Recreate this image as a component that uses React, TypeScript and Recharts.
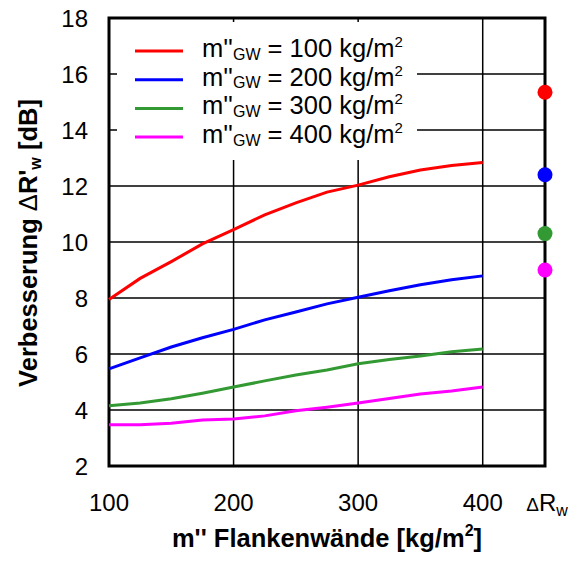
import { ComposedChart, Line, Scatter, XAxis, YAxis, CartesianGrid, ReferenceArea, Legend } from 'recharts';

const masses = [100, 125, 150, 175, 200, 225, 250, 275, 300, 325, 350, 375, 400];
const gw100 = [7.95, 8.7, 9.3, 9.93, 10.44, 10.97, 11.4, 11.78, 12.03, 12.33, 12.57, 12.73, 12.84];
const gw200 = [5.47, 5.86, 6.25, 6.58, 6.88, 7.22, 7.5, 7.79, 8.03, 8.26, 8.47, 8.65, 8.79];
const gw300 = [4.15, 4.25, 4.4, 4.6, 4.82, 5.04, 5.25, 5.43, 5.65, 5.8, 5.93, 6.08, 6.18];
const gw400 = [3.47, 3.47, 3.53, 3.64, 3.68, 3.79, 3.97, 4.1, 4.25, 4.41, 4.57, 4.68, 4.82];

const seriesKeys = ['gw100', 'gw200', 'gw300', 'gw400'];
const seriesLabels = ['100', '200', '300', '400'];
const colors = ['#ff0000', '#0000ff', '#339933', '#ff00ff'];

// Einzahlwerte ΔRw (rechte Achse)
const deltaRw = [15.35, 12.4, 10.3, 9.0];

const xTicks = [100, 200, 300, 400, 450];
const yTicks = [2, 4, 6, 8, 10, 12, 14, 16, 18];

const font = '"Liberation Sans", Arial, sans-serif';

const data = masses.map((m, i) => ({ x: m, gw100: gw100[i], gw200: gw200[i], gw300: gw300[i], gw400: gw400[i] }));
const dots = deltaRw.map((v, i) => ({ x: 450, y: v, color: colors[i] }));

function XTick({ x, y, payload }: any) {
  if (payload.value === 450) {
    return (
      <text x={x + 2} y={y} dy="0.71em" textAnchor="middle" fontSize={24} fill="#000" fontFamily={font}>
        <tspan fontSize={19}>Δ</tspan>
        <tspan>R</tspan>
        <tspan fontSize={16} dy={5}>w</tspan>
      </text>
    );
  }
  return (
    <text x={x} y={y} dy="0.71em" textAnchor="middle" fontSize={24} fill="#000" fontFamily={font}>
      {payload.value}
    </text>
  );
}

function XLabel({ viewBox }: any) {
  const cx = viewBox.x + viewBox.width / 2;
  return (
    <text x={cx} y={viewBox.y + 81} textAnchor="middle" fontSize={25.5} fontWeight="bold" fill="#000" fontFamily={font}>
      <tspan>m'' Flankenwände [kg/m</tspan>
      <tspan fontSize={16} dy={-11}>2</tspan>
      <tspan dy={11}>]</tspan>
    </text>
  );
}

function YLabel() {
  const x = 37;
  const y = 243;
  return (
    <text x={x} y={y} transform={`rotate(-90, ${x}, ${y})`} textAnchor="middle" fontSize={25.5} fontWeight="bold" fill="#000" fontFamily={font}>
      <tspan>Verbesserung </tspan>
      <tspan fontWeight="normal">Δ</tspan>
      <tspan>R'</tspan>
      <tspan fontSize={16} dy={4}>w</tspan>
      <tspan dy={-4}> [dB]</tspan>
    </text>
  );
}

function LegendBox() {
  return (
    <svg width={300} height={138} style={{ display: 'block' }}>
      {seriesLabels.map((lab, i) => {
        const ly = 29 + i * 28.7;
        return (
          <g key={lab}>
            <line x1={18} x2={66} y1={ly} y2={ly} stroke={colors[i]} strokeWidth={3} />
            <text x={85} y={ly + 6} fontSize={25.5} fill="#000" fontFamily={font}>
              <tspan>m''</tspan>
              <tspan fontSize={16} dy={2.5}>GW</tspan>
              <tspan dy={-2.5}> = {lab} kg/m</tspan>
              <tspan fontSize={15} dy={-10}>2</tspan>
            </text>
          </g>
        );
      })}
    </svg>
  );
}

function Dot({ cx, cy, payload }: any) {
  return <circle cx={cx} cy={cy} r={7.5} fill={payload.color} />;
}

export default function App() {
  return (
    <div style={{ position: 'absolute', left: 0, top: 0, width: 576, height: 561, background: '#fff', fontFamily: font }}>
      <ComposedChart width={576} height={561} data={data} margin={{ top: 18, right: 31, left: 0, bottom: 0 }}>
        <CartesianGrid stroke="#000" strokeWidth={1.5} />
        <XAxis
          dataKey="x"
          type="number"
          domain={[100, 450]}
          ticks={xTicks}
          height={95}
          axisLine={false}
          tickLine={false}
          tickSize={0}
          tickMargin={28}
          tick={<XTick />}
          interval={0}
          label={<XLabel />}
        />
        <YAxis
          type="number"
          domain={[2, 18]}
          ticks={yTicks}
          width={109}
          axisLine={false}
          tickLine={false}
          tickSize={0}
          tickMargin={21}
          interval={0}
          tick={{ fontSize: 24, fill: '#000', fontFamily: font }}
          label={<YLabel />}
        />
        <ReferenceArea x1={100} x2={450} y1={2} y2={18} fill="none" fillOpacity={0} stroke="#000" strokeWidth={3} />
        {seriesKeys.map((k, i) => (
          <Line key={k} dataKey={k} type="linear" stroke={colors[i]} strokeWidth={3} dot={false} isAnimationActive={false} />
        ))}
        <Scatter data={dots} dataKey="y" shape={<Dot />} isAnimationActive={false} />
        <Legend
          layout="vertical"
          align="center"
          verticalAlign="middle"
          content={<LegendBox />}
          wrapperStyle={{ left: 117, top: 22, width: 300, height: 138, background: '#fff' }}
        />
      </ComposedChart>
    </div>
  );
}
